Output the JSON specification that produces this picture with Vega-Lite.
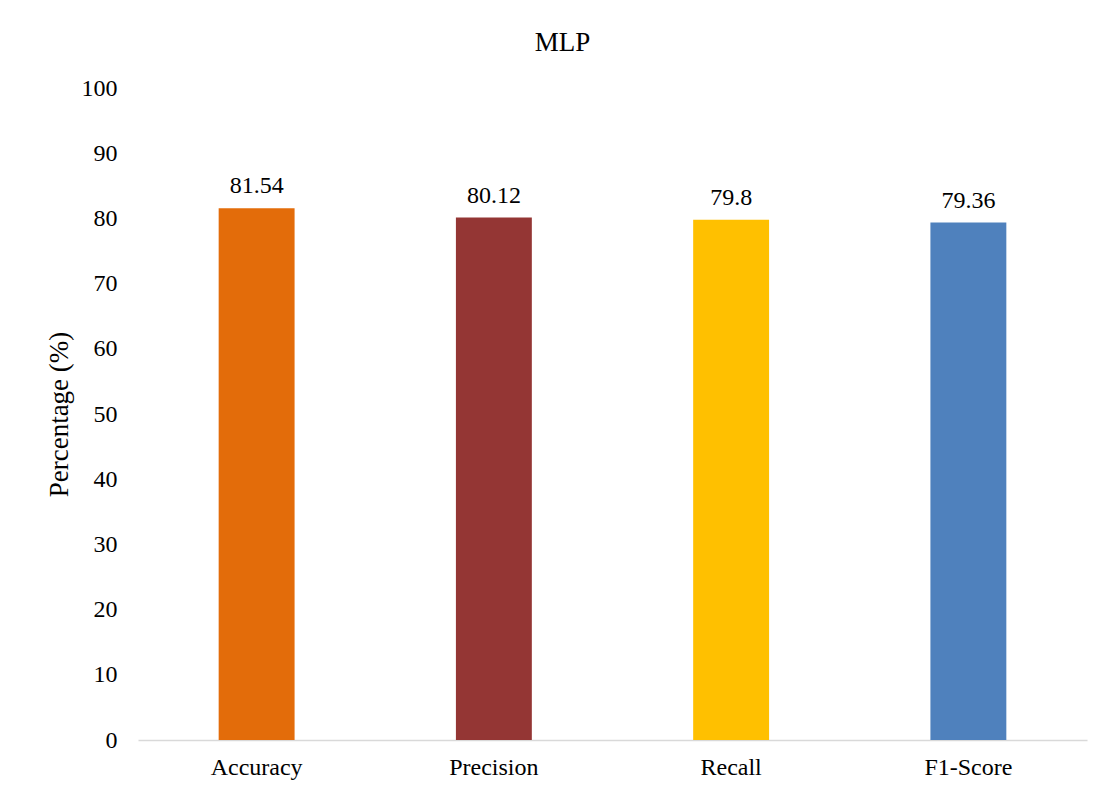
{
  "$schema": "https://vega.github.io/schema/vega-lite/v6.json",
  "autosize": {"type": "none"},
  "padding": {"left": 138, "top": 88, "right": 24, "bottom": 56},
  "width": 949,
  "height": 652,
  "background": "white",
  "config": {
    "view": {"stroke": null},
    "font": "Liberation Serif",
    "title": {"font": "Liberation Serif", "fontSize": 27, "fontWeight": "normal", "color": "black"}
  },
  "title": {"text": "MLP", "offset": 19, "dx": -50},
  "data": {
    "values": [
      {"metric": "Accuracy", "value": 81.54, "label": "81.54"},
      {"metric": "Precision", "value": 80.12, "label": "80.12"},
      {"metric": "Recall", "value": 79.8, "label": "79.8"},
      {"metric": "F1-Score", "value": 79.36, "label": "79.36"}
    ]
  },
  "encoding": {
    "x": {
      "field": "metric",
      "type": "nominal",
      "sort": null,
      "scale": {"paddingInner": 0.68, "paddingOuter": 0.34},
      "axis": {
        "title": null,
        "labelAngle": 0,
        "labelFont": "Liberation Serif",
        "labelFontSize": 24,
        "labelColor": "black",
        "labelPadding": 15,
        "ticks": false,
        "domainColor": "#d9d9d9",
        "domainWidth": 1.5,
        "grid": false
      }
    },
    "y": {
      "field": "value",
      "type": "quantitative",
      "scale": {"domain": [0, 100]},
      "axis": {
        "title": "Percentage (%)",
        "titleFont": "Liberation Serif",
        "titleFontSize": 27,
        "titleFontWeight": "normal",
        "titleColor": "black",
        "titlePadding": 8,
        "values": [0, 10, 20, 30, 40, 50, 60, 70, 80, 90, 100],
        "labelFont": "Liberation Serif",
        "labelFontSize": 24,
        "labelColor": "black",
        "labelPadding": 21,
        "ticks": false,
        "domain": false,
        "grid": false
      }
    }
  },
  "layer": [
    {
      "mark": {"type": "bar"},
      "encoding": {
        "color": {
          "field": "metric",
          "type": "nominal",
          "scale": {
            "domain": ["Accuracy", "Precision", "Recall", "F1-Score"],
            "range": ["#E36C0A", "#943634", "#FFC000", "#4F81BD"]
          },
          "legend": null
        }
      }
    },
    {
      "mark": {"type": "text", "baseline": "alphabetic", "dy": -15, "font": "Liberation Serif", "fontSize": 24, "color": "black"},
      "encoding": {"text": {"field": "label"}}
    }
  ]
}
